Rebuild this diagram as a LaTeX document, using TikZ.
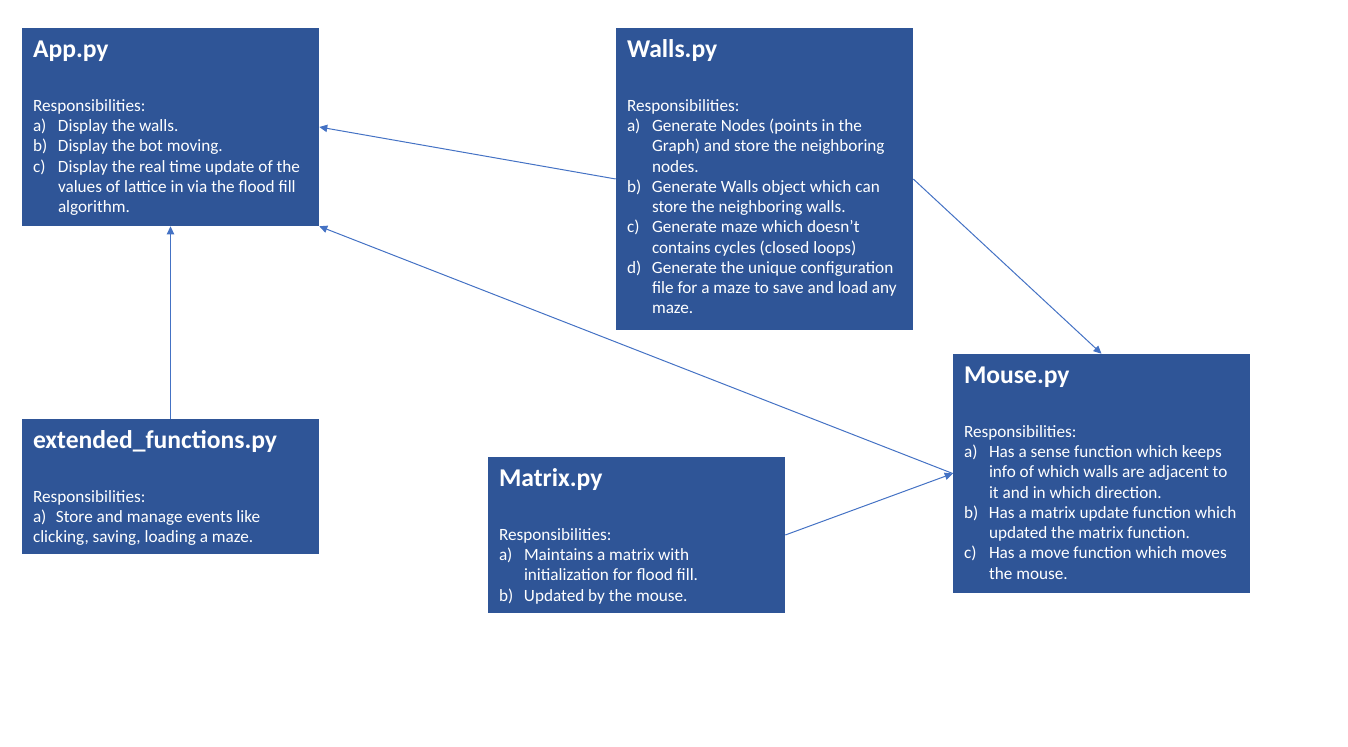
\documentclass[tikz,border=0pt]{standalone}
\usepackage{fontspec}
\setmainfont{Carlito}
\usetikzlibrary{arrows.meta,calc}
\definecolor{boxblue}{HTML}{2F5597}
\definecolor{linkblue}{HTML}{4472C4}
\newcommand{\itm}[2]{\par\hangindent=18.75pt\hangafter=1\noindent\makebox[18.75pt][l]{#1}#2}
\newcommand{\bodytext}[1]{\parbox[t]{250pt}{\fontsize{12.9pt}{15.2pt}\selectfont\raggedright\parindent=0pt\parskip=0pt #1}}
\begin{document}
\begin{tikzpicture}[x=0.75pt,y=-0.75pt,
  box/.style={draw=none,fill=boxblue,inner sep=0pt,minimum width=222.75pt},
  title/.style={anchor=base west,inner sep=0pt,text=white,font=\fontsize{19.2pt}{22pt}\selectfont\bfseries},
  body/.style={anchor=base west,inner sep=0pt,text=white},
  link/.style={draw=linkblue,line width=0.75pt,-{Triangle[width=5.5pt,length=6pt]}}]
\useasboundingbox (0,0) rectangle (1348,746);
\node[box,minimum height=148.5pt] (app) at (170.5,127) {};
\node[box,minimum height=226.5pt] (walls) at (764.5,179) {};
\node[box,minimum height=179.25pt] (mouse) at (1101.5,473.5) {};
\node[box,minimum height=101.25pt] (ext) at (170.5,486.5) {};
\node[box,minimum height=117pt] (matrix) at (636.5,535) {};
% titles
\node[title] (appT) at ($(app.north west)+(11,29.5)$) {App.py};
\node[title] (wallsT) at ($(walls.north west)+(11,29.5)$) {Walls.py};
\node[title] (mouseT) at ($(mouse.north west)+(11,29.5)$) {Mouse.py};
\node[title] (extT) at ($(ext.north west)+(11,29.5)$) {extended\_functions.py};
\node[title] (matrixT) at ($(matrix.north west)+(11,29.5)$) {Matrix.py};
% bodies
\node[body] (appB) at ($(app.north west)+(11,83.5)$) {\bodytext{Responsibilities:
\itm{a)}{Display the walls.}
\itm{b)}{Display the bot moving.}
\itm{c)}{Display the real time update of the\newline values of lattice in via the flood fill\newline algorithm.}}};
\node[body] (wallsB) at ($(walls.north west)+(11,83.5)$) {\bodytext{Responsibilities:
\itm{a)}{Generate Nodes (points in the\newline Graph) and store the neighboring\newline nodes.}
\itm{b)}{Generate Walls object which can\newline store the neighboring walls.}
\itm{c)}{Generate maze which doesn’t\newline contains cycles (closed loops)}
\itm{d)}{Generate the unique configuration\newline file for a maze to save and load any\newline maze.}}};
\node[body] (mouseB) at ($(mouse.north west)+(11,83.5)$) {\bodytext{Responsibilities:
\itm{a)}{Has a sense function which keeps\newline info of which walls are adjacent to\newline it and in which direction.}
\itm{b)}{Has a matrix update function which\newline updated the matrix function.}
\itm{c)}{Has a move function which moves\newline the mouse.}}};
\node[body] (extB) at ($(ext.north west)+(11,83.5)$) {\bodytext{Responsibilities:\newline
a)\hspace{0.55em}Store and manage events like\newline
clicking, saving, loading a maze.}};
\node[body] (matrixB) at ($(matrix.north west)+(11,83.5)$) {\bodytext{Responsibilities:
\itm{a)}{Maintains a matrix with\newline initialization for flood fill.}
\itm{b)}{Updated by the mouse.}}};
% connectors
\draw[link] (walls.west) -- (app.east);
\draw[link] (mouse.west) -- (app.south east);
\draw[link] (ext.north) -- (app.south);
\draw[link] (walls.east) -- (mouse.north);
\draw[link] (matrix.east) -- (mouse.west);
\end{tikzpicture}
\end{document}
